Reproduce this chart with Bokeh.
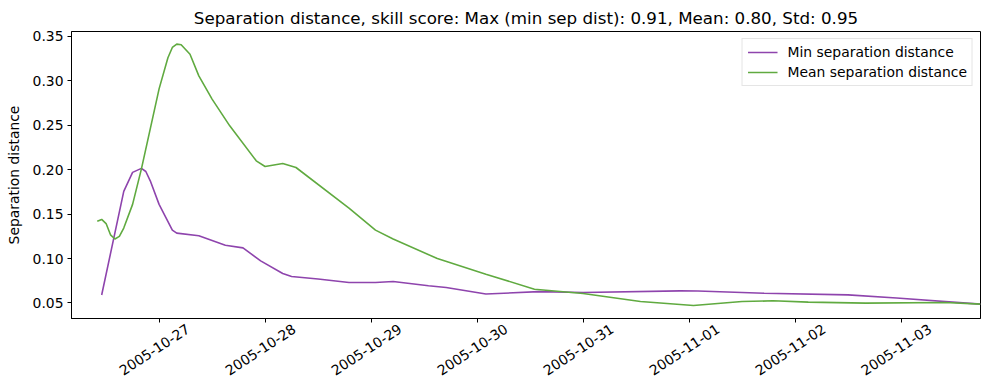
import math
import pandas as pd
from bokeh.plotting import figure
from bokeh.models import (FixedTicker, DatetimeTickFormatter, Range1d, Legend,
                          LegendItem, NumeralTickFormatter)
from bokeh.embed import file_html
from bokeh.resources import INLINE

# ---- data ----
min_times = ["2005-10-26 11:00", "2005-10-26 16:00", "2005-10-26 18:00", "2005-10-26 20:00",
             "2005-10-26 21:00", "2005-10-26 22:00", "2005-10-27 00:00", "2005-10-27 03:00",
             "2005-10-27 04:00", "2005-10-27 09:00", "2005-10-27 15:00", "2005-10-27 19:00",
             "2005-10-27 23:00", "2005-10-28 04:00", "2005-10-28 06:00", "2005-10-28 12:00",
             "2005-10-28 19:00", "2005-10-29 01:00", "2005-10-29 05:00", "2005-10-29 13:00",
             "2005-10-29 17:00", "2005-10-30 02:00", "2005-10-30 14:00", "2005-10-31 00:00",
             "2005-10-31 22:00", "2005-11-01 02:00", "2005-11-01 17:00", "2005-11-02 12:00",
             "2005-11-02 23:00", "2005-11-03 18:00"]
min_sep = [0.059, 0.1756, 0.197, 0.2015, 0.198, 0.1875, 0.161, 0.132,
           0.1286, 0.1256, 0.115, 0.112, 0.0974, 0.0831, 0.0797, 0.077,
           0.073, 0.073, 0.0741, 0.0693, 0.0674, 0.060, 0.0628, 0.0617,
           0.0636, 0.0635, 0.061, 0.0591, 0.0555, 0.0487]

mean_times = ["2005-10-26 10:00", "2005-10-26 11:00", "2005-10-26 12:00", "2005-10-26 13:00",
              "2005-10-26 14:00", "2005-10-26 15:00", "2005-10-26 16:00", "2005-10-26 18:00",
              "2005-10-26 20:00", "2005-10-27 00:00", "2005-10-27 02:00", "2005-10-27 03:00",
              "2005-10-27 04:00", "2005-10-27 05:00", "2005-10-27 07:00", "2005-10-27 09:00",
              "2005-10-27 12:00", "2005-10-27 16:00", "2005-10-27 22:00", "2005-10-28 00:00",
              "2005-10-28 04:00", "2005-10-28 07:00", "2005-10-28 19:00", "2005-10-29 01:00",
              "2005-10-29 05:00", "2005-10-29 15:00", "2005-10-30 02:00", "2005-10-30 13:00",
              "2005-10-31 00:00", "2005-10-31 13:00", "2005-11-01 01:00", "2005-11-01 12:00",
              "2005-11-01 19:00", "2005-11-02 03:00", "2005-11-02 16:00", "2005-11-03 10:00",
              "2005-11-03 18:00"]
mean_sep = [0.142, 0.144, 0.1394, 0.1267, 0.122, 0.125, 0.1343, 0.161,
            0.201, 0.291, 0.326, 0.3376, 0.3414, 0.3407, 0.330, 0.3057,
            0.2795, 0.2494, 0.210, 0.2036, 0.207, 0.2025, 0.1568, 0.132,
            0.122, 0.100, 0.0824, 0.0655, 0.0606, 0.0516, 0.0471, 0.0516,
            0.0524, 0.0509, 0.0498, 0.0505, 0.0487]

x_ticks = ["2005-10-27", "2005-10-28", "2005-10-29", "2005-10-30",
           "2005-10-31", "2005-11-01", "2005-11-02", "2005-11-03"]
y_ticks = [0.05, 0.10, 0.15, 0.20, 0.25, 0.30, 0.35]

title_text = "Separation distance, skill score: Max (min sep dist): 0.91, Mean: 0.80, Std: 0.95"
y_label = "Separation distance"
labels = ["Min separation distance", "Mean separation distance"]
colors = ["#8E44AD", "#60AA40"]

FONT = "DejaVu Sans"
FS = "13.9px"

Y0, Y1 = 0.0325, 0.3556

p = figure(width=989, height=390, x_axis_type="datetime",
           output_backend="svg", toolbar_location=None,
           x_range=Range1d(pd.Timestamp("2005-10-26 04:10"), pd.Timestamp("2005-11-03 18:00")),
           y_range=Range1d(Y0, Y1),
           min_border_left=71, min_border_right=9, min_border_top=31, min_border_bottom=72)

p.title.text = title_text
p.title.align = "center"
p.title.text_font = FONT
p.title.text_font_size = "16.7px"
p.title.text_font_style = "normal"
p.title.text_color = "#000000"
p.title.standoff = 7

r1 = p.line(pd.to_datetime(min_times), min_sep, line_color=colors[0], line_width=1.6)
r2 = p.line(pd.to_datetime(mean_times), mean_sep, line_color=colors[1], line_width=1.6)

legend = Legend(items=[LegendItem(label=labels[0], renderers=[r1]),
                       LegendItem(label=labels[1], renderers=[r2])],
                location="top_right", margin=7, padding=5, spacing=4,
                label_height=16, glyph_height=16, glyph_width=30, label_standoff=10,
                label_text_font=FONT, label_text_font_size=FS, label_text_color="black",
                border_line_color="#cccccc", border_line_width=1,
                background_fill_alpha=0.8)
p.add_layout(legend)

p.xgrid.visible = False
p.ygrid.visible = False
p.outline_line_color = "black"
p.outline_line_width = 1
p.outline_line_alpha = 1

fmt = DatetimeTickFormatter(days="%Y-%m-%d", hours="%Y-%m-%d",
                            months="%Y-%m-%d", years="%Y-%m-%d")
tick_ms = [pd.Timestamp(t).value / 1e6 for t in x_ticks]

# major ticks (invisible) carry the rotated labels, shifted so each label is centred
# under its date; minor ticks draw the visible tick marks at the dates themselves
shift_ms = 6.6 * 3600 * 1000
p.xaxis.ticker = FixedTicker(ticks=[t + shift_ms for t in tick_ms], minor_ticks=tick_ms)
p.xaxis.formatter = fmt
p.xaxis.major_tick_line_color = None
p.xaxis.major_tick_out = 4
p.xaxis.major_tick_in = 0
p.xaxis.minor_tick_line_color = "black"
p.xaxis.minor_tick_out = 4
p.xaxis.minor_tick_in = 0
p.xaxis.major_label_orientation = 0.58
p.xaxis.major_label_standoff = 5
p.xaxis.major_label_text_font = FONT
p.xaxis.major_label_text_font_size = FS
p.xaxis.major_label_text_color = "black"
p.xaxis.axis_line_color = "black"

p.yaxis.ticker = FixedTicker(ticks=y_ticks)
p.yaxis.formatter = NumeralTickFormatter(format="0.00")
p.yaxis.axis_label = y_label
p.yaxis.axis_line_color = "black"
p.yaxis.major_tick_line_color = "black"
p.yaxis.major_tick_out = 4
p.yaxis.major_tick_in = 0
p.yaxis.minor_tick_line_color = None
p.yaxis.major_label_text_font = FONT
p.yaxis.major_label_text_font_size = FS
p.yaxis.major_label_text_color = "black"
p.yaxis.major_label_standoff = 4
p.yaxis.axis_label_text_font = FONT
p.yaxis.axis_label_text_font_size = FS
p.yaxis.axis_label_text_font_style = "normal"
p.yaxis.axis_label_text_color = "black"
p.yaxis.axis_label_standoff = 8

p.background_fill_color = "white"
p.border_fill_color = "white"

open("out.html", "w").write(file_html(p, INLINE))
